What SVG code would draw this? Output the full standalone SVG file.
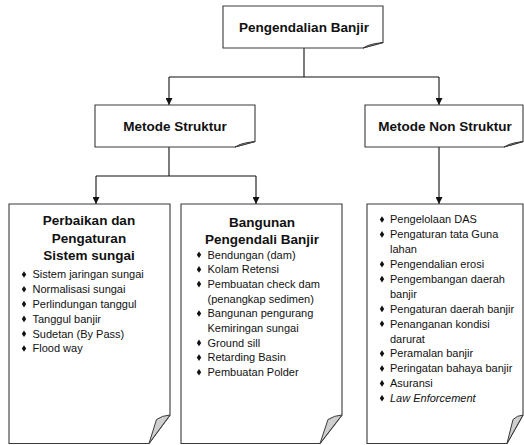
<svg xmlns="http://www.w3.org/2000/svg" xmlns:xlink="http://www.w3.org/1999/xlink" width="524" height="445" viewBox="0 0 524 445">
<style>
.box{fill:#fff;stroke:#3a3a3a;stroke-width:1.1}
.fold{fill:#cfcfcf;stroke:#3a3a3a;stroke-width:1}
.t{font-family:"Liberation Sans",Arial,sans-serif;font-weight:bold;font-size:13.5px;fill:#111;text-anchor:middle}
.i{font-family:"Liberation Sans",Arial,sans-serif;font-size:11px;fill:#111}
.em{font-style:italic}
.c{fill:none;stroke:#111;stroke-width:1.1}
</style>
<defs>
<marker id="ah" viewBox="0 0 10 10" refX="10" refY="5" markerWidth="7" markerHeight="7" markerUnits="userSpaceOnUse" orient="auto">
<path d="M0,0 L10,5 L0,10 Z" fill="#111"/>
</marker>
<path id="d" d="M0,-3.3 L2.2,0 L0,3.3 L-2.2,0 Z" fill="#111"/>
</defs>
<rect width="524" height="445" fill="#fff"/>

<g id="connectors">
<path class="c" d="M304,48 V77 M169,77 H439"/>
<path class="c" d="M169,77 V105" marker-end="url(#ah)"/>
<path class="c" d="M439,77 V105" marker-end="url(#ah)"/>
<path class="c" d="M169,147 V176 M96,176 H256"/>
<path class="c" d="M96,176 V204" marker-end="url(#ah)"/>
<path class="c" d="M256,176 V204" marker-end="url(#ah)"/>
<path class="c" d="M439,147 V204" marker-end="url(#ah)"/>
</g>

<g id="node-pengendalian">
<path class="box" d="M223,6 H383 V42.5 L363,48 H223 Z"/>
<path class="fold" d="M383,42.5 Q373,43.5 368,45.5 L363,48 Z"/>
<text class="t" x="304" y="32">Pengendalian Banjir</text>
</g>

<g id="node-struktur">
<path class="box" d="M95,105 H255 V141.5 L235,147 H95 Z"/>
<path class="fold" d="M255,141.5 Q245,142.5 240,144.5 L235,147 Z"/>
<text class="t" x="175" y="131">Metode Struktur</text>
</g>

<g id="node-nonstruktur">
<path class="box" d="M365,105 H523 V141.5 L504,147 H365 Z"/>
<path class="fold" d="M523,141.5 Q514,142.5 509,144.5 L504,147 Z"/>
<text class="t" x="445" y="131">Metode Non Struktur</text>
</g>

<g id="node-perbaikan">
<path class="box" d="M9,204 H170 V415 L149,443.5 H9 Z"/>
<path class="fold" d="M170,415 Q162,415.5 156.5,419.5 L149,443.5 Z"/>
<text class="t" x="89" y="225">Perbaikan dan</text>
<text class="t" x="89" y="242.5">Pengaturan</text>
<text class="t" x="89" y="260">Sistem sungai</text>
<use xlink:href="#d" x="24" y="274.5"/><text class="i" x="32.5" y="278.3">Sistem jaringan sungai</text>
<use xlink:href="#d" x="24" y="289.3"/><text class="i" x="32.5" y="293.1">Normalisasi sungai</text>
<use xlink:href="#d" x="24" y="304.1"/><text class="i" x="32.5" y="307.9">Perlindungan tanggul</text>
<use xlink:href="#d" x="24" y="318.9"/><text class="i" x="32.5" y="322.7">Tanggul banjir</text>
<use xlink:href="#d" x="24" y="333.7"/><text class="i" x="32.5" y="337.5">Sudetan (By Pass)</text>
<use xlink:href="#d" x="24" y="348.5"/><text class="i" x="32.5" y="352.3">Flood way</text>
</g>

<g id="node-bangunan">
<path class="box" d="M181,204 H342 V415 L320,443.5 H181 Z"/>
<path class="fold" d="M342,415 Q334,415.5 328,419.5 L320,443.5 Z"/>
<text class="t" x="262" y="226.5">Bangunan</text>
<text class="t" x="262" y="243.5">Pengendali Banjir</text>
<use xlink:href="#d" x="199" y="254.7"/><text class="i" x="207.5" y="258.5">Bendungan (dam)</text>
<use xlink:href="#d" x="199" y="269.4"/><text class="i" x="207.5" y="273.2">Kolam Retensi</text>
<use xlink:href="#d" x="199" y="284.1"/><text class="i" x="207.5" y="287.9">Pembuatan check dam</text>
<text class="i" x="207.5" y="302.6">(penangkap sedimen)</text>
<use xlink:href="#d" x="199" y="313.5"/><text class="i" x="207.5" y="317.3">Bangunan pengurang</text>
<text class="i" x="207.5" y="332">Kemiringan sungai</text>
<use xlink:href="#d" x="199" y="342.9"/><text class="i" x="207.5" y="346.7">Ground sill</text>
<use xlink:href="#d" x="199" y="357.6"/><text class="i" x="207.5" y="361.4">Retarding Basin</text>
<use xlink:href="#d" x="199" y="372.3"/><text class="i" x="207.5" y="376.1">Pembuatan Polder</text>
</g>

<g id="node-nonstruktur-list">
<path class="box" d="M367,204 H523 V415 L507,443.5 H367 Z"/>
<path class="fold" d="M523,415 Q517,415.5 513,419.5 L507,443.5 Z"/>
<use xlink:href="#d" x="382" y="219.5"/><text class="i" x="390" y="223.3">Pengelolaan DAS</text>
<use xlink:href="#d" x="382" y="234.4"/><text class="i" x="390" y="238.2">Pengaturan tata Guna</text>
<text class="i" x="390" y="253.1">lahan</text>
<use xlink:href="#d" x="382" y="264.2"/><text class="i" x="390" y="268">Pengendalian erosi</text>
<use xlink:href="#d" x="382" y="279.1"/><text class="i" x="390" y="282.9">Pengembangan daerah</text>
<text class="i" x="390" y="297.8">banjir</text>
<use xlink:href="#d" x="382" y="308.9"/><text class="i" x="390" y="312.7">Pengaturan daerah banjir</text>
<use xlink:href="#d" x="382" y="323.8"/><text class="i" x="390" y="327.6">Penanganan kondisi</text>
<text class="i" x="390" y="342.5">darurat</text>
<use xlink:href="#d" x="382" y="353.6"/><text class="i" x="390" y="357.4">Peramalan banjir</text>
<use xlink:href="#d" x="382" y="368.5"/><text class="i" x="390" y="372.3">Peringatan bahaya banjir</text>
<use xlink:href="#d" x="382" y="383.4"/><text class="i" x="390" y="387.2">Asuransi</text>
<use xlink:href="#d" x="382" y="398.3"/><text class="i em" x="390" y="402.1">Law Enforcement</text>
</g>
</svg>
